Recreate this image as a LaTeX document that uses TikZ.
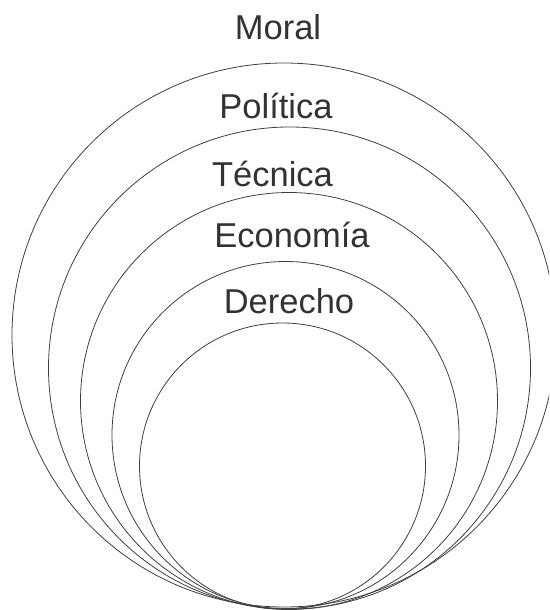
\documentclass[tikz,border=0pt]{standalone}
\usepackage{fontspec}
\setmainfont{Liberation Sans}
\begin{document}
\begin{tikzpicture}[x=1pt,y=-1pt,
  ring/.style={circle, draw=black!75, line width=0.8pt, inner sep=0pt, minimum size=#1},
  lbl/.style={anchor=base, inner sep=0pt, text=black!80, font=\fontsize{34.5}{40}\selectfont}]
\useasboundingbox (0,0) rectangle (549,610);
\clip (0,0) rectangle (549,610);
\fill[white] (0,0) rectangle (549,610);
\node[ring=544pt] (c1) at (284,335) {};
\node[ring=482pt] (c2) at (289.5,368) {};
\node[ring=417pt] (c3) at (289,401) {};
\node[ring=347pt] (c4) at (285.5,435) {};
\node[ring=286pt] (c5) at (282.5,466) {};
\node[lbl] (moral) at (278,40) {Moral};
\node[lbl] (politica) at (276,118) {Política};
\node[lbl] (tecnica) at (272.5,186) {Técnica};
\node[lbl] (economia) at (292,247) {Economía};
\node[lbl] (derecho) at (289,313) {Derecho};
\end{tikzpicture}
\end{document}
